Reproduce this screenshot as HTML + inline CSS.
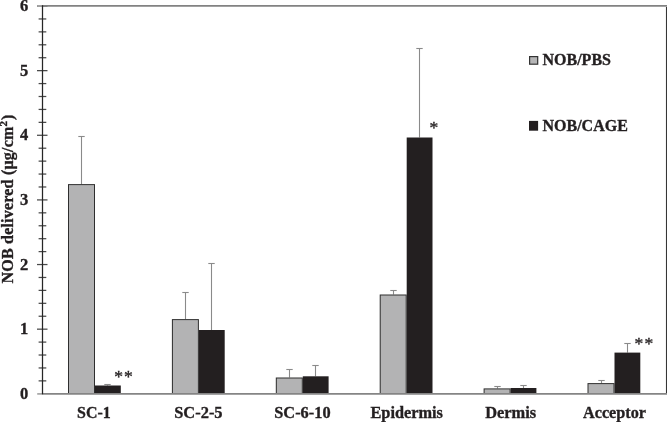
<!DOCTYPE html>
<html><head><meta charset="utf-8">
<style>
html,body{margin:0;padding:0;background:#fff;}
body{width:667px;height:422px;overflow:hidden;}
svg{display:block;will-change:transform;}
text{font-family:"Liberation Serif",serif;font-weight:bold;fill:#231f20;stroke:#231f20;stroke-width:0.35px;}
</style></head>
<body>
<svg width="667" height="422" viewBox="0 0 667 422">
<g stroke="#8a8a8a" stroke-width="1.1" fill="none">
<line x1="81.50" y1="184.10" x2="81.50" y2="136.50"/>
<line x1="78.30" y1="136.50" x2="84.70" y2="136.50"/>
<line x1="107.50" y1="385.50" x2="107.50" y2="384.50"/>
<line x1="104.30" y1="384.50" x2="110.70" y2="384.50"/>
<line x1="185.50" y1="319.10" x2="185.50" y2="292.50"/>
<line x1="182.30" y1="292.50" x2="188.70" y2="292.50"/>
<line x1="211.50" y1="330.00" x2="211.50" y2="263.50"/>
<line x1="208.30" y1="263.50" x2="214.70" y2="263.50"/>
<line x1="289.50" y1="377.50" x2="289.50" y2="369.50"/>
<line x1="286.30" y1="369.50" x2="292.70" y2="369.50"/>
<line x1="315.50" y1="376.30" x2="315.50" y2="365.50"/>
<line x1="312.30" y1="365.50" x2="318.70" y2="365.50"/>
<line x1="393.50" y1="294.50" x2="393.50" y2="290.50"/>
<line x1="390.30" y1="290.50" x2="396.70" y2="290.50"/>
<line x1="419.50" y1="137.50" x2="419.50" y2="48.50"/>
<line x1="416.30" y1="48.50" x2="422.70" y2="48.50"/>
<line x1="497.50" y1="388.40" x2="497.50" y2="386.50"/>
<line x1="494.30" y1="386.50" x2="500.70" y2="386.50"/>
<line x1="523.50" y1="388.00" x2="523.50" y2="385.50"/>
<line x1="520.30" y1="385.50" x2="526.70" y2="385.50"/>
<line x1="601.50" y1="383.10" x2="601.50" y2="380.50"/>
<line x1="598.30" y1="380.50" x2="604.70" y2="380.50"/>
<line x1="627.50" y1="352.60" x2="627.50" y2="343.50"/>
<line x1="624.30" y1="343.50" x2="630.70" y2="343.50"/>
</g>
<rect x="68.00" y="184.10" width="27.00" height="209.50" fill="#2e2e2e"/>
<rect x="69.00" y="185.10" width="25.00" height="208.50" fill="#b3b3b4"/>
<rect x="95.00" y="385.50" width="25.80" height="8.10" fill="#231f20"/>
<rect x="171.90" y="319.10" width="27.00" height="74.50" fill="#2e2e2e"/>
<rect x="172.90" y="320.10" width="25.00" height="73.50" fill="#b3b3b4"/>
<rect x="198.90" y="330.00" width="25.80" height="63.60" fill="#231f20"/>
<rect x="275.80" y="377.50" width="27.00" height="16.10" fill="#2e2e2e"/>
<rect x="276.80" y="378.50" width="25.00" height="15.10" fill="#b3b3b4"/>
<rect x="302.80" y="376.30" width="25.80" height="17.30" fill="#231f20"/>
<rect x="379.70" y="294.50" width="27.00" height="99.10" fill="#2e2e2e"/>
<rect x="380.70" y="295.50" width="25.00" height="98.10" fill="#b3b3b4"/>
<rect x="406.70" y="137.50" width="25.80" height="256.10" fill="#231f20"/>
<rect x="483.60" y="388.40" width="27.00" height="5.20" fill="#2e2e2e"/>
<rect x="484.60" y="389.40" width="25.00" height="4.20" fill="#b3b3b4"/>
<rect x="510.60" y="388.00" width="25.80" height="5.60" fill="#231f20"/>
<rect x="587.50" y="383.10" width="27.00" height="10.50" fill="#2e2e2e"/>
<rect x="588.50" y="384.10" width="25.00" height="9.50" fill="#b3b3b4"/>
<rect x="614.50" y="352.60" width="25.80" height="41.00" fill="#231f20"/>
<g stroke="#4a4a4a" stroke-width="1.25">
<line x1="38.6" x2="46.3" y1="380.87" y2="380.87"/>
<line x1="38.6" x2="46.3" y1="367.95" y2="367.95"/>
<line x1="38.6" x2="46.3" y1="355.02" y2="355.02"/>
<line x1="38.6" x2="46.3" y1="342.10" y2="342.10"/>
<line x1="37" x2="47.5" y1="329.17" y2="329.17"/>
<line x1="38.6" x2="46.3" y1="316.24" y2="316.24"/>
<line x1="38.6" x2="46.3" y1="303.32" y2="303.32"/>
<line x1="38.6" x2="46.3" y1="290.39" y2="290.39"/>
<line x1="38.6" x2="46.3" y1="277.47" y2="277.47"/>
<line x1="37" x2="47.5" y1="264.54" y2="264.54"/>
<line x1="38.6" x2="46.3" y1="251.61" y2="251.61"/>
<line x1="38.6" x2="46.3" y1="238.69" y2="238.69"/>
<line x1="38.6" x2="46.3" y1="225.76" y2="225.76"/>
<line x1="38.6" x2="46.3" y1="212.84" y2="212.84"/>
<line x1="37" x2="47.5" y1="199.91" y2="199.91"/>
<line x1="38.6" x2="46.3" y1="186.98" y2="186.98"/>
<line x1="38.6" x2="46.3" y1="174.06" y2="174.06"/>
<line x1="38.6" x2="46.3" y1="161.13" y2="161.13"/>
<line x1="38.6" x2="46.3" y1="148.21" y2="148.21"/>
<line x1="37" x2="47.5" y1="135.28" y2="135.28"/>
<line x1="38.6" x2="46.3" y1="122.35" y2="122.35"/>
<line x1="38.6" x2="46.3" y1="109.43" y2="109.43"/>
<line x1="38.6" x2="46.3" y1="96.50" y2="96.50"/>
<line x1="38.6" x2="46.3" y1="83.58" y2="83.58"/>
<line x1="37" x2="47.5" y1="70.65" y2="70.65"/>
<line x1="38.6" x2="46.3" y1="57.72" y2="57.72"/>
<line x1="38.6" x2="46.3" y1="44.80" y2="44.80"/>
<line x1="38.6" x2="46.3" y1="31.87" y2="31.87"/>
<line x1="38.6" x2="46.3" y1="18.95" y2="18.95"/>
<line x1="37" x2="47.5" y1="6.02" y2="6.02"/>
</g>
<line x1="37.2" y1="393.9" x2="42" y2="393.9" stroke="#a5a5a5" stroke-width="1.7"/>
<line x1="42" y1="393.9" x2="667" y2="393.9" stroke="#858585" stroke-width="1.7"/>
<line x1="37.3" y1="5.95" x2="42" y2="5.95" stroke="#a5a5a5" stroke-width="1.8"/>
<line x1="42" y1="5.95" x2="667" y2="5.95" stroke="#828282" stroke-width="1.8"/>
<line x1="42.5" y1="5.2" x2="42.5" y2="394.3" stroke="#262626" stroke-width="1.25"/>
<line x1="666.5" y1="6.9" x2="666.5" y2="393" stroke="#363636" stroke-width="1.1"/>
<text x="28.3" y="398.70" text-anchor="end" font-size="16.5">0</text>
<text x="28.3" y="334.10" text-anchor="end" font-size="16.5">1</text>
<text x="28.3" y="269.50" text-anchor="end" font-size="16.5">2</text>
<text x="28.3" y="204.90" text-anchor="end" font-size="16.5">3</text>
<text x="28.3" y="140.30" text-anchor="end" font-size="16.5">4</text>
<text x="28.3" y="75.70" text-anchor="end" font-size="16.5">5</text>
<text x="28.3" y="11.10" text-anchor="end" font-size="16.5">6</text>
<text x="77.10" y="418.2" font-size="16.6" textLength="33.6" lengthAdjust="spacingAndGlyphs">SC-1</text>
<text x="174.20" y="418.2" font-size="16.6" textLength="48.4" lengthAdjust="spacingAndGlyphs">SC-2-5</text>
<text x="274.25" y="418.2" font-size="16.6" textLength="56.3" lengthAdjust="spacingAndGlyphs">SC-6-10</text>
<text x="370.45" y="418.2" font-size="16.6" textLength="72.5" lengthAdjust="spacingAndGlyphs">Epidermis</text>
<text x="485.15" y="418.2" font-size="16.6" textLength="51.0" lengthAdjust="spacingAndGlyphs">Dermis</text>
<text x="583.05" y="418.2" font-size="16.6" textLength="62.9" lengthAdjust="spacingAndGlyphs">Acceptor</text>
<text x="114.2" y="382.4" font-size="17.6" letter-spacing="1.1" style="font-weight:normal;stroke:#231f20;stroke-width:0.35">**</text>
<text x="429.6" y="133.4" font-size="17.6" letter-spacing="1.1" style="font-weight:normal;stroke:#231f20;stroke-width:0.35">*</text>
<text x="634.5" y="348.9" font-size="17.6" letter-spacing="1.1" style="font-weight:normal;stroke:#231f20;stroke-width:0.35">**</text>
<rect x="529" y="56" width="9.3" height="8.8" fill="#333"/>
<rect x="530.2" y="57.2" width="6.9" height="6.4" fill="#b5b5b6"/>
<text x="542.5" y="64.8" font-size="16">NOB/PBS</text>
<rect x="529" y="120.9" width="9.1" height="9.8" fill="#231f20"/>
<text x="542.5" y="131" font-size="16">NOB/CAGE</text>
<text transform="translate(13,283.4) rotate(-90)" font-size="16" letter-spacing="0.2">NOB delivered (µg/cm<tspan font-size="11" dy="-6">2</tspan><tspan dy="6" dx="0.8">)</tspan></text>
</svg>
</body></html>
